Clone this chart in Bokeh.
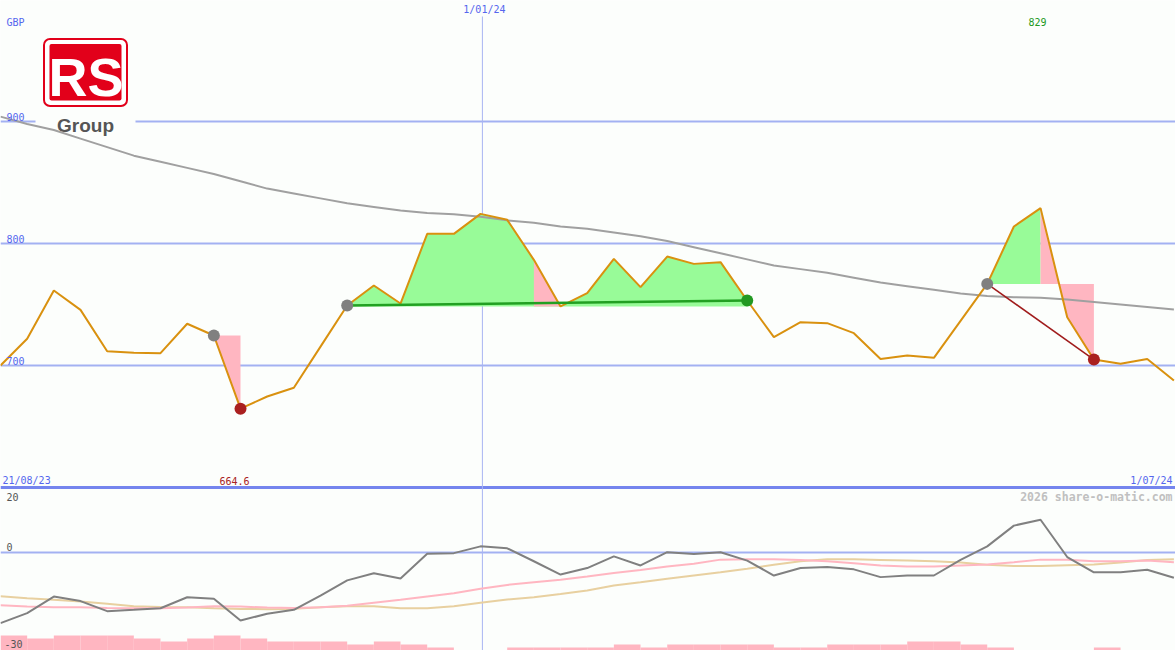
from bokeh.plotting import figure
from bokeh.models import Range1d
from bokeh.core.properties import value
from bokeh.embed import file_html
from bokeh.resources import INLINE

# ---------------- data (weekly points, index 0 = 21/08/23) ----------------
price = [700.0, 721.9, 761.5, 745.6, 711.7, 710.4, 710.1, 734.2, 724.6, 664.6,
         674.6, 681.7, 715.5, 749.2, 765.6, 750.8, 807.9, 807.9, 824.3, 819.4,
         786.6, 748.4, 759.3, 787.4, 764.2, 789.3, 783.3, 784.7, 753.3, 723.2,
         735.5, 734.7, 726.5, 705.4, 708.2, 706.3, 736.6, 766.9, 813.9, 829.0,
         739.6, 704.9, 701.4, 705.4, 687.7]
moving_avg = [904, 898, 893, 886, 879, 872, 867, 862, 857, 851,
              845, 841, 837, 833, 830, 827, 825, 824, 822, 819,
              817, 814, 812, 809, 806, 802, 797, 792, 787, 782,
              779, 776, 772, 768, 765, 762, 759, 757, 756, 755.5,
              754, 752, 750, 748, 746]
osc = [-21.8, -18.7, -13.6, -15.0, -18.1, -17.7, -17.2, -13.8, -14.3, -21.0,
       -18.9, -17.7, -13.3, -8.6, -6.4, -8.0, -0.4, -0.2, 1.9, 1.3,
       -2.7, -6.8, -4.8, -1.2, -4.0, 0.1, -0.5, 0.1, -2.5, -7.1,
       -4.8, -4.5, -5.2, -7.6, -7.1, -7.1, -2.3, 1.9, 8.3, 10.1,
       -1.4, -6.1, -6.1, -5.3, -7.8]
osc_fast = [-16.3, -16.7, -16.9, -16.9, -17.1, -17.2, -17.2, -17.0, -16.6, -16.7,
            -17.0, -17.1, -16.9, -16.4, -15.5, -14.6, -13.6, -12.6, -11.2, -10.0,
            -9.2, -8.4, -7.4, -6.3, -5.4, -4.3, -3.5, -2.2, -2.1, -2.1,
            -2.3, -2.7, -3.3, -4.0, -4.3, -4.3, -4.0, -3.7, -3.0, -2.2,
            -2.2, -2.7, -2.7, -2.5, -3.0]
osc_slow = [-13.5, -14.1, -14.6, -15.1, -15.8, -16.6, -16.8, -16.9, -17.2, -17.4,
            -17.5, -17.4, -16.9, -16.6, -16.6, -17.2, -17.2, -16.6, -15.5, -14.5,
            -13.8, -12.8, -11.7, -10.2, -9.2, -8.1, -7.1, -6.1, -5.0, -3.8,
            -2.7, -2.1, -2.1, -2.3, -2.5, -2.7, -3.1, -3.8, -4.2, -4.2,
            -3.9, -3.7, -3.1, -2.3, -2.1]
volume = [5, 4, 5, 5, 5, 4, 3, 4, 5, 4,
          3, 3, 3, 2, 3, 2, 1, 0, 0, 1,
          1, 1, 1, 2, 1, 2, 2, 2, 2, 1,
          1, 2, 2, 2, 3, 3, 2, 1, 0, 0,
          0, 1, 0, 0, 0]
main_ticks = [900, 800, 700]
main_floor = 600
osc_ticks = ["20", "0", "-30"]
currency = "GBP"
date_start = "21/08/23"
date_end = "1/07/24"
year_label = "1/01/24"
year_index = 18.07
site_label = "2026 share-o-matic.com"

# signals (indices)
grey_pts = [8, 13, 37]
red_pts = [9, 41]
green_pts = [28]
support_span = (13, 28)
drop_span = (20, 21)
left_drop = (8, 9)
right_rise = (37, 39)
right_drop = (39, 41)

# ---------------- geometry helpers (reference pixel space) ----------------
STEP = 1175 / 44.06           # px per week
def xi(px): return px / STEP
def vm(py): return 700 + (365 - py) / 1.22
def vo(py): return (552 - py) / 3.24

BG = "#fcfefc"
BLUE_TXT = "#5566ee"
GRID = "#a3b1f2"
FONT = value("DejaVu Sans Mono")
SHIFT = 0.3   # baseline correction (fraction of font size)

p = figure(width=1175, height=650, output_backend="svg", toolbar_location=None,
           x_range=Range1d(0, 44.06), y_range=Range1d(vm(650), vm(0)),
           x_axis_type=None, y_axis_type=None, min_border=0,
           background_fill_color=BG, border_fill_color=BG, outline_line_color=None)
p.extra_y_ranges = {"osc": Range1d(vo(650), vo(0)), "vol": Range1d(0, 650 / 3)}
p.grid.visible = False

idx = list(range(len(price)))

# grid lines
p.hspan(y=main_ticks, line_color=GRID, line_width=2)
p.hspan(y=[main_floor], line_color="#7585ee", line_width=3)
p.hspan(y=[0], line_color=GRID, line_width=2, y_range_name="osc")
p.segment(x0=[year_index], y0=[vm(16)], x1=[year_index], y1=[vm(650)],
          line_color="#a8b4f2", line_width=1)

# logo
p.quad(left=[xi(35)], right=[xi(135)], top=[vm(110)], bottom=[vm(135)],
       fill_color=BG, line_color=None)
p.quad(left=[xi(43.5)], right=[xi(126.5)], top=[vm(38.5)], bottom=[vm(105.5)],
       fill_color="white", line_color="#e2001a", line_width=2, border_radius=6)
p.quad(left=[xi(49)], right=[xi(121)], top=[vm(43.5)], bottom=[vm(100)],
       fill_color="#e2001a", line_color=None, border_radius=2)
p.text(x=[xi(85.5)], y=[vm(93 - SHIFT * 54)], text=["RS"], text_color="white",
       text_font=value("Liberation Sans"), text_font_style="bold",
       text_font_size="54px", text_align="center", text_baseline="alphabetic")
p.text(x=[xi(85)], y=[vm(131 - SHIFT * 19)], text=["Group"], text_color="#555555",
       text_font=value("Liberation Sans"), text_font_style="bold",
       text_font_size="19px", text_align="center", text_baseline="alphabetic")

# fills
s0, s1 = support_span
base = min(price[s0:s1 + 1])
xs = idx[s0:s1 + 1]
p.varea(x=xs, y1=[base] * len(xs), y2=price[s0:s1 + 1], fill_color="#98fb98")
d0, d1 = drop_span
p.varea(x=idx[d0:d1 + 1], y1=[base] * (d1 - d0 + 1), y2=price[d0:d1 + 1], fill_color="#ffb6c1")
l0, l1 = left_drop
p.varea(x=idx[l0:l1 + 1], y1=[price[l0]] * (l1 - l0 + 1), y2=price[l0:l1 + 1], fill_color="#ffb6c1")
r0, r1 = right_rise
lvl = price[r0]
p.varea(x=idx[r0:r1 + 1], y1=[lvl] * (r1 - r0 + 1), y2=price[r0:r1 + 1], fill_color="#98fb98")
q0, q1 = right_drop
p.varea(x=idx[q0:q1 + 1], y1=[lvl] * (q1 - q0 + 1), y2=price[q0:q1 + 1], fill_color="#ffb6c1")

# lines
p.line(idx, moving_avg, line_color="#a0a0a0", line_width=2)
p.line(idx, price, line_color="#d9910f", line_width=2)
p.line([s0, s1], [price[s0], price[s1]], line_color="#22a022", line_width=2.5)
p.line([r0, red_pts[1]], [price[r0], price[red_pts[1]]], line_color="#a01c1c", line_width=1.5)

# markers
p.scatter(grey_pts, [price[i] for i in grey_pts], size=12, fill_color="#808080", line_color=None)
p.scatter(red_pts, [price[i] for i in red_pts], size=12, fill_color="#aa2020", line_color=None)
p.scatter(green_pts, [price[i] for i in green_pts], size=12, fill_color="#229922", line_color=None)

# lower panel
p.quad(left=idx, right=[i + 1 for i in idx], bottom=[0] * len(idx), top=volume,
       fill_color="#ffb6c1", line_color=None, y_range_name="vol")
p.line(idx, osc_slow, line_color="#e8d0a0", line_width=2, y_range_name="osc")
p.line(idx, osc_fast, line_color="#ffb6c1", line_width=2, y_range_name="osc")
p.line(idx, osc, line_color="#808080", line_width=2, y_range_name="osc")

# texts (y given as baseline in reference pixels)
def txt(x, py, s, color, align="left", size=10, style="normal", rng="default"):
    q = py - SHIFT * size
    y = vo(q) if rng == "osc" else vm(q)
    p.text(x=[x], y=[y], text=[s], text_color=color, text_font=FONT,
           text_font_size=f"{size}px", text_font_style=style, text_align=align,
           text_baseline="alphabetic", y_range_name=rng)

def py_main(v): return 365 - (v - 700) * 1.22

txt(xi(6), 25, currency, BLUE_TXT)
for t in main_ticks:
    txt(xi(6), py_main(t) - 2, str(t), BLUE_TXT)
txt(year_index + xi(2), 12, year_label, BLUE_TXT, align="center")
imax = price.index(max(price))
txt(imax - xi(3), 24, f"{max(price):g}", "#229922", align="center")
txt(xi(2), 483, date_start, BLUE_TXT)
imin = price.index(min(price))
txt(imin - xi(6), 483, f"{min(price):.1f}", "#aa2222", align="center")
txt(xi(1172), 483, date_end, BLUE_TXT, align="right")
txt(xi(1172), 500, site_label, "#c0c0c0", align="right", size=11.5, style="bold")
for s, py in zip(osc_ticks, [499, 549, 646]):
    txt(xi(6) if s != "-30" else xi(4), py, s, "#555555", rng="osc")

open("out.html", "w").write(file_html(p, INLINE))
